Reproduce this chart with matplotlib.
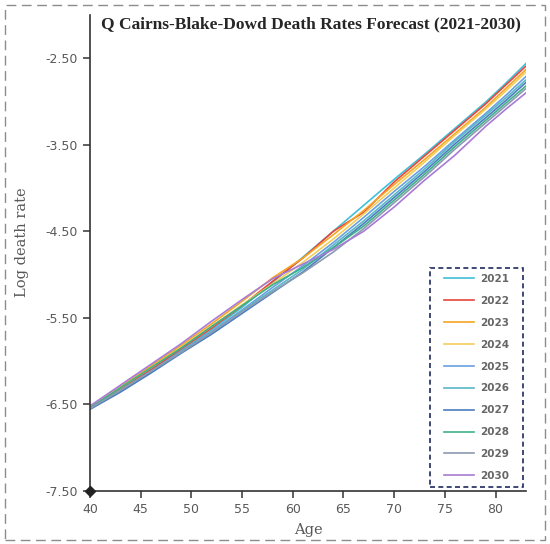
import matplotlib
matplotlib.use("Agg")
import matplotlib.pyplot as plt
from matplotlib.patches import Rectangle

ages = [40, 43, 46, 49, 52, 55, 58, 61, 64, 67, 70, 73, 76, 79, 81, 83]

years = [2021, 2022, 2023, 2024, 2025, 2026, 2027, 2028, 2029, 2030]

q2021 = [-6.55, -6.33, -6.11, -5.88, -5.64, -5.38, -5.09, -4.80, -4.50, -4.20, -3.90, -3.61, -3.31, -3.01, -2.79, -2.56]
q2022 = [-6.54, -6.32, -6.10, -5.86, -5.62, -5.36, -5.08, -4.81, -4.50, -4.28, -3.93, -3.63, -3.33, -3.03, -2.81, -2.59]
q2023 = [-6.53, -6.30, -6.06, -5.82, -5.57, -5.31, -5.04, -4.81, -4.54, -4.26, -3.96, -3.67, -3.37, -3.07, -2.85, -2.63]
q2024 = [-6.53, -6.31, -6.08, -5.84, -5.60, -5.35, -5.11, -4.86, -4.59, -4.30, -4.00, -3.70, -3.39, -3.09, -2.88, -2.66]
q2025 = [-6.55, -6.34, -6.12, -5.89, -5.66, -5.41, -5.15, -4.90, -4.63, -4.34, -4.04, -3.75, -3.44, -3.14, -2.93, -2.71]
q2026 = [-6.55, -6.35, -6.13, -5.90, -5.68, -5.42, -5.18, -4.94, -4.66, -4.38, -4.08, -3.78, -3.46, -3.16, -2.96, -2.75]
q2027 = [-6.56, -6.36, -6.14, -5.91, -5.69, -5.45, -5.21, -4.97, -4.69, -4.41, -4.11, -3.81, -3.49, -3.19, -2.99, -2.78]
q2028 = [-6.54, -6.31, -6.08, -5.85, -5.60, -5.36, -5.12, -4.92, -4.69, -4.44, -4.14, -3.84, -3.52, -3.22, -3.02, -2.82]
q2029 = [-6.55, -6.34, -6.12, -5.90, -5.67, -5.43, -5.20, -4.98, -4.74, -4.47, -4.17, -3.87, -3.55, -3.25, -3.05, -2.85]
q2030 = [-6.52, -6.28, -6.04, -5.80, -5.54, -5.29, -5.05, -4.88, -4.71, -4.50, -4.22, -3.91, -3.62, -3.29, -3.09, -2.90]

series = [q2021, q2022, q2023, q2024, q2025, q2026, q2027, q2028, q2029, q2030]
colors = ['#3FC0D8', '#E8453C', '#F5A623', '#F3CD5A', '#6A9FE0',
          '#58B8C8', '#4C7CC0', '#3DB08A', '#8A9BB0', '#A77BD6']

yticks = [-7.5, -6.5, -5.5, -4.5, -3.5, -2.5]
xticks = [40, 45, 50, 55, 60, 65, 70, 75, 80]

W, H = 550, 544
fig = plt.figure(figsize=(5.5, 5.44), dpi=100)
ax = fig.add_axes([90 / W, 1 - 490.7 / H, 436 / W, 475.7 / H])

for yr, vals, c in zip(years, series, colors):
    ax.plot(ages, vals, color=c, lw=1.2, label=str(yr))

ax.plot([40], [-7.5], marker='D', color='#222222', ms=5, clip_on=False, zorder=5)

ax.set_xlim(40, 83)
ax.set_ylim(-7.5, -2.0)
ax.set_xticks(xticks)
ax.set_yticks(yticks)
ax.set_yticklabels(['%.2f' % t for t in yticks])
for s in ['top', 'right']:
    ax.spines[s].set_visible(False)
for s in ['left', 'bottom']:
    ax.spines[s].set_color('#333333')
    ax.spines[s].set_linewidth(1.2)
ax.tick_params(colors='#333333', labelcolor='#595959', labelsize=9, length=5, width=1.1)

fig.text(311 / W, 1 - 24 / H, 'Q Cairns-Blake-Dowd Death Rates Forecast (2021-2030)',
         ha='center', va='center', fontsize=12.5, fontweight='bold',
         family='Liberation Serif', color='#262626')
fig.text(308 / W, 1 - 530 / H, 'Age', ha='center', va='center', fontsize=10.5,
         family='DejaVu Serif', color='#595959')
fig.text(22 / W, 1 - 242 / H, 'Log death rate', ha='center', va='center', rotation=90,
         fontsize=10.5, family='DejaVu Serif', color='#595959')

leg = ax.legend(loc='center', bbox_to_anchor=((430 + 523) / 2 / W, 1 - 377.5 / H),
                bbox_transform=fig.transFigure, frameon=False,
                prop={'weight': 'bold', 'size': 7.5}, labelcolor='#666666',
                handlelength=2.9, handletextpad=0.5, labelspacing=1.14)

fig.patches.append(Rectangle((430 / W, 1 - 487 / H), 93 / W, 219 / H,
                             transform=fig.transFigure, fill=False,
                             ec='#1F2A5C', lw=1.2, ls=(0, (3, 2))))
fig.patches.append(Rectangle((5 / W, 1 - 540 / H), 540 / W, 535 / H,
                             transform=fig.transFigure, fill=False,
                             ec='#8C8C8C', lw=1.0, ls=(0, (7, 4))))

fig.savefig('out.png', dpi=100)
